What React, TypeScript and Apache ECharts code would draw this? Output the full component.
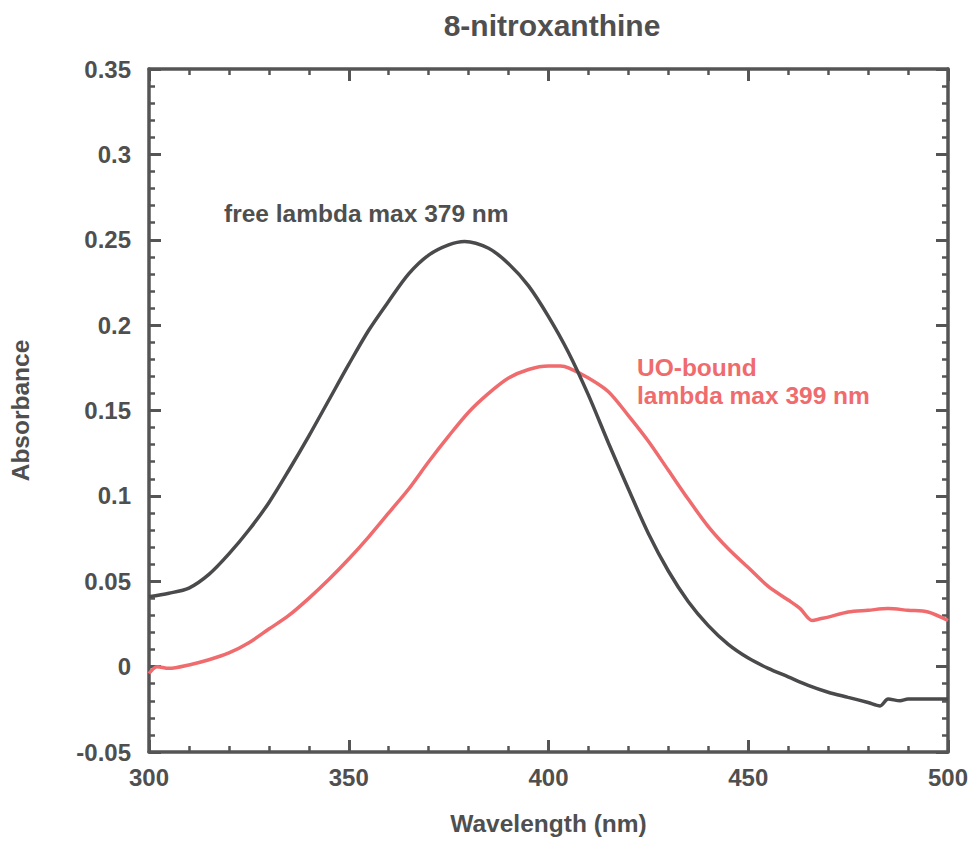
import { useEffect, useRef } from "react";
import * as echarts from "echarts";

// Free 8-nitroxanthine spectrum (black)
const freeWavelengths = [300, 305, 310, 315, 320, 325, 330, 335, 340, 345, 350, 355, 360, 365, 370, 375, 379, 385, 390, 395, 400, 405, 410, 415, 420, 425, 430, 435, 440, 445, 450, 455, 460, 465, 470, 475, 480, 483, 485, 488, 490, 495, 500];
const freeAbsorbance = [0.041, 0.043, 0.046, 0.054, 0.066, 0.080, 0.096, 0.115, 0.135, 0.156, 0.177, 0.197, 0.214, 0.230, 0.241, 0.247, 0.249, 0.245, 0.236, 0.223, 0.205, 0.184, 0.159, 0.131, 0.104, 0.078, 0.056, 0.038, 0.024, 0.013, 0.005, -0.001, -0.006, -0.011, -0.015, -0.018, -0.021, -0.023, -0.019, -0.020, -0.019, -0.019, -0.019];

// UO-bound spectrum (red)
const boundWavelengths = [300, 302, 305, 310, 315, 320, 325, 330, 335, 340, 345, 350, 355, 360, 365, 370, 375, 380, 385, 390, 395, 400, 403, 405, 410, 415, 420, 425, 430, 435, 440, 445, 450, 455, 460, 463, 466, 468, 470, 475, 480, 485, 490, 495, 500];
const boundAbsorbance = [-0.004, 0.000, -0.001, 0.001, 0.004, 0.008, 0.014, 0.022, 0.030, 0.040, 0.051, 0.063, 0.076, 0.090, 0.104, 0.120, 0.135, 0.149, 0.160, 0.169, 0.174, 0.176, 0.176, 0.175, 0.169, 0.161, 0.147, 0.132, 0.115, 0.098, 0.082, 0.069, 0.058, 0.047, 0.039, 0.034, 0.027, 0.028, 0.029, 0.032, 0.033, 0.034, 0.033, 0.032, 0.027];

const titleText = "8-nitroxanthine";
const xName = "Wavelength (nm)";
const yName = "Absorbance";
const freeLabel = "free lambda max 379 nm";
const boundLabel = ["UO-bound", "lambda max 399 nm"];

const FONT = '"Liberation Sans", Arial, Helvetica, sans-serif';
const AXIS = "#555555";
const TEXT = "#4f4f4f";
const BLACK = "#4a4a4c";
const RED = "#ef6b6d";

export default function App() {
  const ref = useRef<HTMLDivElement>(null);

  useEffect(() => {
    if (!ref.current) return;
    const chart = echarts.init(ref.current, undefined, { renderer: "svg" });

    const tickCommon = {
      axisLine: { show: true, onZero: false, lineStyle: { color: AXIS, width: 3.5 } },
      axisTick: { show: true, inside: true, length: 12, lineStyle: { color: AXIS, width: 3 } },
      minorTick: { show: true, splitNumber: 5, length: 6, lineStyle: { color: AXIS, width: 2.5 } },
      splitLine: { show: false },
      minorSplitLine: { show: false },
    };

    const labelStyle = {
      color: TEXT,
      fontFamily: FONT,
      fontWeight: "bold" as const,
      fontSize: 24,
    };

    const fmtY = (v: number) => String(Math.round(v * 100) / 100);

    chart.setOption({
      animation: false,
      backgroundColor: "#ffffff",
      grid: { left: 148, right: 28, top: 69, bottom: 94, containLabel: false },
      xAxis: [
        {
          type: "value",
          min: 300,
          max: 500,
          interval: 50,
          position: "bottom",
          ...tickCommon,
          axisLabel: { ...labelStyle, margin: 13 },
          name: xName,
          nameLocation: "middle",
          nameGap: 59,
          nameTextStyle: { ...labelStyle, fontSize: 24.5 },
        },
        {
          type: "value",
          min: 300,
          max: 500,
          interval: 50,
          position: "top",
          ...tickCommon,
          axisLabel: { show: false },
        },
      ],
      yAxis: [
        {
          type: "value",
          min: -0.05,
          max: 0.35,
          interval: 0.05,
          position: "left",
          ...tickCommon,
          axisLabel: { ...labelStyle, margin: 18, formatter: fmtY },
          name: yName,
          nameLocation: "middle",
          nameGap: 116,
          nameRotate: 90,
          nameTextStyle: { ...labelStyle, fontSize: 24.5 },
        },
        {
          type: "value",
          min: -0.05,
          max: 0.35,
          interval: 0.05,
          position: "right",
          ...tickCommon,
          axisLabel: { show: false },
        },
      ],
      series: [
        {
          name: "free",
          type: "line",
          xAxisIndex: 0,
          yAxisIndex: 0,
          showSymbol: false,
          smooth: 0.3,
          lineStyle: { color: BLACK, width: 3.5 },
          data: freeWavelengths.map((w, i) => [w, freeAbsorbance[i]]),
          z: 3,
        },
        {
          name: "UO-bound",
          type: "line",
          xAxisIndex: 0,
          yAxisIndex: 0,
          showSymbol: false,
          smooth: 0.3,
          lineStyle: { color: RED, width: 3.5 },
          data: boundWavelengths.map((w, i) => [w, boundAbsorbance[i]]),
          z: 2,
        },
      ],
      graphic: [
        {
          type: "text",
          x: 552,
          y: 25,
          style: {
            text: titleText,
            align: "center",
            verticalAlign: "middle",
            fill: TEXT,
            font: `bold 30px ${FONT}`,
          },
        },
        {
          type: "text",
          x: 224,
          y: 213,
          style: {
            text: freeLabel,
            align: "left",
            verticalAlign: "middle",
            fill: TEXT,
            font: `bold 24.5px ${FONT}`,
          },
        },
        {
          type: "text",
          x: 637,
          y: 367,
          style: {
            text: boundLabel[0],
            align: "left",
            verticalAlign: "middle",
            fill: RED,
            font: `bold 24.5px ${FONT}`,
          },
        },
        {
          type: "text",
          x: 637,
          y: 395,
          style: {
            text: boundLabel[1],
            align: "left",
            verticalAlign: "middle",
            fill: RED,
            font: `bold 24.5px ${FONT}`,
          },
        },
      ],
    });

    return () => chart.dispose();
  }, []);

  return (
    <div
      ref={ref}
      style={{ position: "fixed", left: 0, top: 0, width: 976, height: 846, background: "#fff" }}
    />
  );
}
